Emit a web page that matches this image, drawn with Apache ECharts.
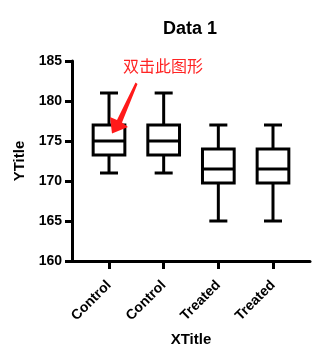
<!DOCTYPE html>
<html>
<head>
<meta charset="utf-8">
<script src="https://cdn.jsdelivr.net/npm/echarts@6/dist/echarts.min.js"></script>
<style>
  html, body { margin: 0; padding: 0; background: #fff; }
  #chart { width: 335px; height: 354px; }
</style>
</head>
<body>
<div id="chart"></div>
<script>
// categories + box statistics (min / Q1 / median / Q3 / max)
const categories = ['Control', 'Control', 'Treated', 'Treated']
const mins = [171, 171, 165, 165]
const q1s = [173.25, 173.25, 169.75, 169.75]
const medians = [175, 175, 171.5, 171.5]
const q3s = [177, 177, 174, 174]
const maxs = [181, 181, 177, 177]
const yTicks = [160, 165, 170, 175, 180, 185]

const boxData = categories.map((c, i) => [i, mins[i], q1s[i], medians[i], q3s[i], maxs[i]])
const tickPos = categories.map((c, i) => i)

const FONT = '"Liberation Sans", Arial, sans-serif'
const LINE = 3

// draw one box + whiskers through the axis scales
const renderBox = (params, api) => {
  const x = api.value(0)
  const pMin = api.coord([x, api.value(1)])
  const pQ1 = api.coord([x, api.value(2)])
  const pMed = api.coord([x, api.value(3)])
  const pQ3 = api.coord([x, api.value(4)])
  const pMax = api.coord([x, api.value(5)])
  const unit = api.size([1, 0])[0]
  const half = unit * 0.29
  const capHalf = unit * 0.165
  const style = { stroke: '#000', lineWidth: LINE, fill: null }
  const ln = (x1, y1, x2, y2) => ({ type: 'line', shape: { x1, y1, x2, y2 }, style })
  const cx = pMed[0]
  return {
    type: 'group',
    children: [
      ln(cx, pMax[1], cx, pQ3[1]),
      ln(cx - capHalf, pMax[1], cx + capHalf, pMax[1]),
      ln(cx, pQ1[1], cx, pMin[1]),
      ln(cx - capHalf, pMin[1], cx + capHalf, pMin[1]),
      {
        type: 'rect',
        shape: { x: cx - half, y: pQ3[1], width: half * 2, height: pQ1[1] - pQ3[1] },
        style: { stroke: '#000', lineWidth: LINE, fill: '#fff' }
      },
      ln(cx - half, pMed[1], cx + half, pMed[1])
    ]
  }
}

const chart = echarts.init(document.getElementById('chart'))
const option = {
  animation: false,
  title: {
    text: 'Data 1',
    left: 163,
    top: 20,
    padding: 0,
    textStyle: { fontFamily: FONT, fontSize: 18, fontWeight: 'bold', color: '#000' }
  },
  grid: { left: 72, right: 25, top: 61, bottom: 93, containLabel: false },
  xAxis: {
    type: 'value',
    min: -0.677,
    max: 3.677,
    name: 'XTitle',
    nameLocation: 'middle',
    nameGap: 71,
    nameTextStyle: { fontFamily: FONT, fontSize: 15, fontWeight: 'bold', color: '#000' },
    axisLine: { show: true, onZero: false, lineStyle: { color: '#000', width: LINE } },
    axisTick: { show: true, length: 8, customValues: tickPos, lineStyle: { color: '#000', width: LINE } },
    axisLabel: {
      customValues: tickPos,
      formatter: v => categories[Math.round(v)],
      rotate: 45,
      margin: 22,
      fontFamily: FONT,
      fontSize: 14,
      fontWeight: 'bold',
      color: '#000'
    },
    splitLine: { show: false }
  },
  yAxis: {
    type: 'value',
    min: yTicks[0],
    max: yTicks[yTicks.length - 1],
    interval: 5,
    name: 'YTitle',
    nameLocation: 'middle',
    nameGap: 44,
    nameTextStyle: { fontFamily: FONT, fontSize: 15, fontWeight: 'bold', color: '#000' },
    axisLine: { show: true, onZero: false, lineStyle: { color: '#000', width: LINE } },
    axisTick: { show: true, length: 7, lineStyle: { color: '#000', width: LINE } },
    axisLabel: { margin: 10, fontFamily: FONT, fontSize: 14, fontWeight: 'bold', color: '#000' },
    splitLine: { show: false }
  },
  series: [
    {
      type: 'custom',
      renderItem: renderBox,
      encode: { x: 0, y: [1, 2, 3, 4, 5] },
      data: boxData
    }
  ],
  // red annotation: text + arrow
  graphic: [
    {
      type: 'text',
      left: 123,
      top: 58,
      z: 100,
      style: { text: '双击此图形', font: '16px "Noto Sans CJK SC"', fill: '#ff2424' }
    },
    {
      type: 'polygon',
      z: 100,
      shape: {
        points: [[135.5, 82.5], [137.5, 84], [122, 122.5], [128, 127], [112, 133.5], [110, 117], [117, 120]]
      },
      style: { fill: '#ff1a1a' }
    }
  ]
}
chart.setOption(option)
</script>
</body>
</html>
